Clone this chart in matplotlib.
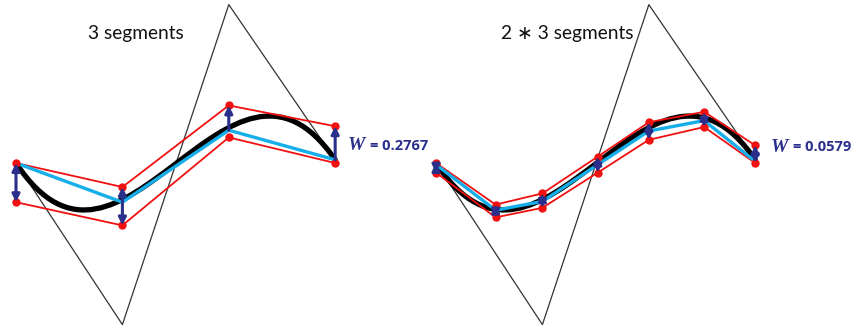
import matplotlib
matplotlib.use("Agg")
import matplotlib.pyplot as plt
from matplotlib.path import Path
from matplotlib.patches import PathPatch
from matplotlib.transforms import offset_copy

# cubic control polygon (same curve in both panels)
ctrl_x = [0.0, 1.0, 2.0, 3.0]
ctrl_y = [0.0, -1.01, 0.99, 0.02]

# 3 segments
left_x = [0.0, 1.0, 2.0, 3.0]
left_mid = [0.0, -0.245, 0.205, 0.02]
left_upper = [0.0, -0.15, 0.36, 0.23]
left_lower = [-0.245, -0.39, 0.16, 0.0]
left_arrows = ["both", "both", "up", "up"]
left_w = "0.2767"

# 2 * 3 segments
right_x = [0.0, 0.56, 1.0, 1.52, 2.0, 2.52, 3.0]
right_mid = [-0.01, -0.295, -0.24, -0.01, 0.2, 0.265, 0.01]
right_upper = [0.0, -0.26, -0.19, 0.04, 0.255, 0.32, 0.11]
right_lower = [-0.06, -0.34, -0.28, -0.06, 0.145, 0.225, 0.0]
right_arrows = ["both"] * 7
right_w = "0.0579"

RED = "#f01010"
CYAN = "#16aee8"
NAVY = "#2b2f8c"

fig = plt.figure(figsize=(8.51, 3.31), dpi=100)
ax_l = fig.add_axes([0, 0, 0.5, 1])
ax_r = fig.add_axes([0.5, 0, 0.5, 1])


def draw_panel(ax, xs, mid, upper, lower, arrows):
    ax.plot(ctrl_x, ctrl_y, color="#333333", lw=0.9, zorder=1)
    verts = list(zip(ctrl_x, ctrl_y))
    codes = [Path.MOVETO, Path.CURVE4, Path.CURVE4, Path.CURVE4]
    ax.add_patch(PathPatch(Path(verts, codes), facecolor="none",
                           edgecolor="black", lw=3.8, capstyle="round", zorder=2))
    ax.plot(xs, upper, color=RED, lw=1.3, zorder=3)
    ax.plot(xs, lower, color=RED, lw=1.3, zorder=3)
    ax.plot(xs, mid, color=CYAN, lw=2.4, zorder=4)
    ax.plot(xs, upper, "o", color=RED, ms=5, zorder=5)
    ax.plot(xs, lower, "o", color=RED, ms=5, zorder=5)
    for x, m, u, lo, kind in zip(xs, mid, upper, lower, arrows):
        if kind == "both":
            a, b, style = lo, u, "<|-|>"
        else:
            a, b, style = m, u, "-|>"
        ax.annotate("", xy=(x, b), xytext=(x, a),
                    arrowprops=dict(arrowstyle=style, color=NAVY, lw=2.2,
                                    mutation_scale=11, shrinkA=0, shrinkB=0),
                    zorder=6)


draw_panel(ax_l, left_x, left_mid, left_upper, left_lower, left_arrows)
draw_panel(ax_r, right_x, right_mid, right_upper, right_lower, right_arrows)

ax_l.set_xlim(-0.1504, 3.849)
ax_r.set_xlim(-0.0987, 3.900)
for ax in (ax_l, ax_r):
    ax.set_ylim(-1.05, 1.019)
    ax.axis("off")

title_font = ["Lato", "DejaVu Sans"]
fig.text(136 / 851, 1 - 33 / 331, "3 segments", ha="center", va="center",
         fontsize=13.8, family=title_font, color="#111111")
fig.text(567 / 851, 1 - 34 / 331, "2 \u2217 3 segments", ha="center", va="center",
         fontsize=13.8, family=title_font, color="#111111")


def width_label(x_px, y_px, value):
    x, y = x_px / 851, 1 - y_px / 331
    fig.text(x, y, "W", ha="left", va="center", fontsize=14,
             family="Liberation Serif", style="italic", weight="bold", color=NAVY)
    tr = offset_copy(fig.transFigure, fig=fig, x=15.5, y=0, units="points")
    fig.text(x, y, "= " + value, ha="left", va="center", fontsize=10.5,
             family="Open Sans", weight="bold", color=NAVY, transform=tr)


width_label(348, 146, left_w)
width_label(771, 147, right_w)

fig.savefig("out.png", dpi=100)
